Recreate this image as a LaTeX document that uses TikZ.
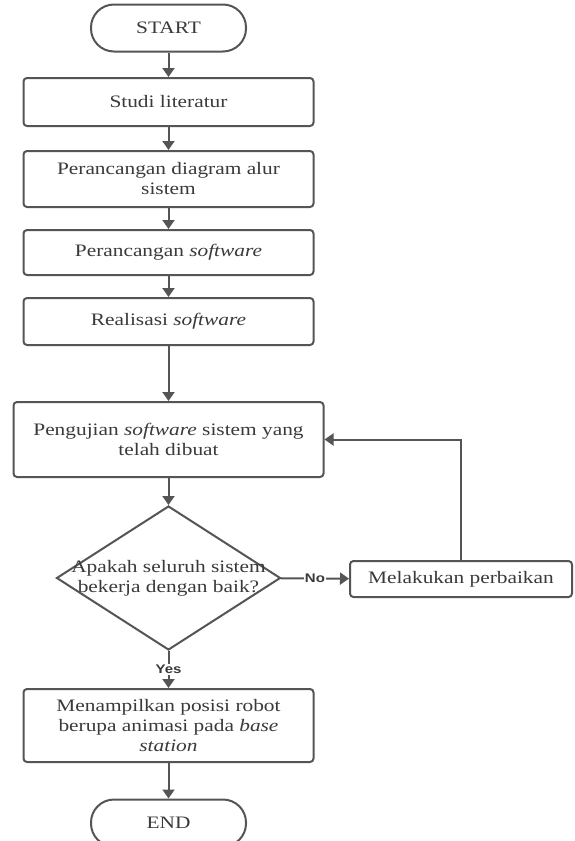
\documentclass[tikz,border=0pt]{standalone}
\usepackage{fontspec}
\setmainfont{Liberation Serif}[FakeStretch=1.22]
\newfontfamily\labfont{Liberation Sans}[FakeStretch=1.2]
\usetikzlibrary{arrows.meta,shapes.geometric}
\definecolor{ln}{HTML}{555555}
\definecolor{tx}{HTML}{3A3A3A}
\begin{document}
\begin{tikzpicture}[x=1pt,y=-1pt,
  box/.style={draw=ln, line width=2pt, rounded corners=3.5pt, fill=white, text=tx,
    align=center, font=\fontsize{17.5}{20}\selectfont, inner sep=0pt, minimum width=290pt},
  term/.style={box, rounded corners=23pt, minimum width=155pt, minimum height=47pt},
  dia/.style={diamond, draw=ln, line width=2pt, minimum width=224pt, minimum height=144pt, inner sep=0pt},
  txt/.style={text=tx, align=center, font=\fontsize{17.5}{20}\selectfont, inner sep=0pt},
  arr/.style={draw=ln, line width=2pt, -{Triangle[length=9pt,width=12pt]}},
  lab/.style={font=\labfont\bfseries\fontsize{12.5}{14}\selectfont, text=tx, fill=white, inner sep=1pt}]
\useasboundingbox (0,0) rectangle (574,841);
\clip (0,0) rectangle (574,841);
\fill[white] (0,0) rectangle (574,841);
\node[term] (start) at (168.5,28) {START};
\node[box, minimum height=48pt] (studi) at (168.5,102) {Studi literatur};
\node[box, minimum height=56pt] (diag) at (168.5,179) {Perancangan diagram alur\\sistem};
\node[box, minimum height=45pt] (psoft) at (168.5,252.5) {Perancangan \textit{software}};
\node[box, minimum height=47pt] (real) at (168.5,321.5) {Realisasi \textit{software}};
\node[box, minimum height=75pt, minimum width=310pt] (uji) at (168.5,439.5) {Pengujian \textit{software} sistem yang\\telah dibuat};
\node[dia] (dec) at (168.5,578) {};
\node[txt] (dectext) at (dec.center) {Apakah seluruh sistem\\bekerja dengan baik?};
\node[box, minimum height=36pt, minimum width=222pt] (fix) at (461,579) {Melakukan perbaikan};
\node[box, minimum height=73pt] (final) at (168.5,725.5) {Menampilkan posisi robot\\berupa animasi pada \textit{base}\\\textit{station}};
\node[term] (end) at (168.5,823) {END};
\draw[arr] (start) -- (studi);
\draw[arr] (studi) -- (diag);
\draw[arr] (diag) -- (psoft);
\draw[arr] (psoft) -- (real);
\draw[arr] (real) -- (uji);
\draw[arr] (uji) -- (dec);
\draw[arr] (dec) -- node[lab] {No} (fix);
\draw[arr] (fix.north) |- (uji.east);
\draw[arr] (dec) -- node[lab] {Yes} (final);
\draw[arr] (final) -- (end);
\end{tikzpicture}
\end{document}
